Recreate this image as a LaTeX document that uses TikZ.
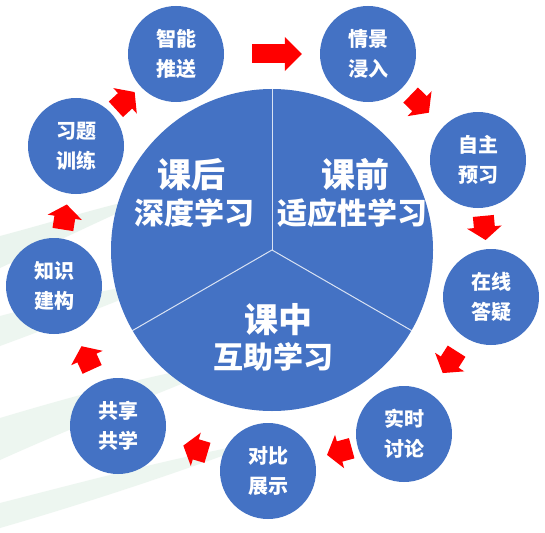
\documentclass[tikz,border=0pt]{standalone}
\usepackage{fontspec}
\newfontfamily\cjk{Noto Sans CJK SC}
\usetikzlibrary{arrows.meta}
\definecolor{stageblue}{HTML}{4472C4}
\definecolor{flowred}{HTML}{FF0000}
\definecolor{swoosh}{HTML}{E2F0E7}
\begin{document}
\begin{tikzpicture}[
    x=1pt, y=-1pt,
    every node/.style={align=center, text=white},
    stage circle/.style={circle, fill=stageblue, minimum size=96pt, inner sep=0pt,
        font=\cjk\bfseries\fontsize{20}{30}\selectfont},
    phase title/.style={font=\cjk\bfseries\fontsize{34}{38}\selectfont},
    phase sub/.style={font=\cjk\bfseries\fontsize{30}{34}\selectfont},
    divider/.style={draw=white, opacity=0.8, line width=1pt},
    flow arrow/.style={draw=flowred, line width=21pt, -{Triangle[length=13pt,width=34pt]}},
    long arrow/.style={draw=flowred, line width=19pt, -{Triangle[length=17pt,width=33pt]}},
    ]
\fill[white] (0,0) rectangle (545,532);
\useasboundingbox (0,0) rectangle (545,532);
% background swooshes
\fill[swoosh, opacity=0.7] (0,236) .. controls (60,220) and (110,204) .. (160,194) .. controls (110,216) and (60,240) .. (0,268) -- cycle;
\fill[swoosh, opacity=0.6] (0,316) .. controls (60,300) and (120,286) .. (170,280) .. controls (120,300) and (60,324) .. (0,346) -- cycle;
\fill[swoosh, opacity=0.6] (0,418) .. controls (80,394) and (170,370) .. (240,360) .. controls (170,389) and (80,424) .. (0,460) -- cycle;
\fill[swoosh, opacity=0.6] (0,503) .. controls (90,480) and (180,456) .. (260,442) .. controls (180,472) and (90,502) .. (0,528) -- cycle;
% central circle
\node (core) [circle, fill=stageblue, minimum size=322pt, inner sep=0pt] at (272,250) {};
\draw[divider] (core.center) -- (core.90);
\draw[divider] (core.center) -- (core.210);
\draw[divider] (core.center) -- (core.330);
\node (houTitle) [phase title] at (191,175) {课后};
\node (houSub) [phase sub] at (194,213) {深度学习};
\node (qianTitle) [phase title] at (355,175) {课前};
\node (qianSub) [phase sub] at (352,213) {适应性学习};
\node (zhongTitle) [phase title] at (278,320) {课中};
\node (zhongSub) [phase sub] at (273,357) {互助学习};
% outer stages
\node (zhineng) [stage circle] at (176,54) {智能\\推送};
\node (qingjing) [stage circle] at (368,54) {情景\\浸入};
\node (zizhu) [stage circle] at (478,160) {自主\\预习};
\node (zaixian) [stage circle] at (491,297) {在线\\答疑};
\node (shishi) [stage circle] at (404,434) {实时\\讨论};
\node (duibi) [stage circle] at (268,471) {对比\\展示};
\node (gongxiang) [stage circle] at (118,426) {共享\\共学};
\node (zhishi) [stage circle] at (54,286) {知识\\建构};
\node (xiti) [stage circle] at (76,146) {习题\\训练};
% arrows
\draw[long arrow, shorten <=28pt, shorten >=18pt] (zhineng) -- (qingjing);
\draw[flow arrow, shorten <=11pt, shorten >=20pt] (qingjing) -- (zizhu);
\draw[flow arrow, shorten <=8pt, shorten >=9pt] (zizhu) -- (zaixian);
\draw[flow arrow, shorten <=16pt, shorten >=24pt] (zaixian) -- (shishi);
\draw[flow arrow, shorten <=6pt, shorten >=13pt] (shishi) -- (duibi);
\draw[flow arrow, shorten <=15pt, shorten >=20pt] (duibi) -- (gongxiang);
\draw[flow arrow, shorten <=14pt, shorten >=18pt] (gongxiang) -- (zhishi);
\draw[flow arrow, shorten <=9pt, shorten >=11pt] (zhishi) -- (xiti);
\draw[flow arrow, shorten <=6pt, shorten >=8pt] (xiti) -- (zhineng);
\end{tikzpicture}
\end{document}
